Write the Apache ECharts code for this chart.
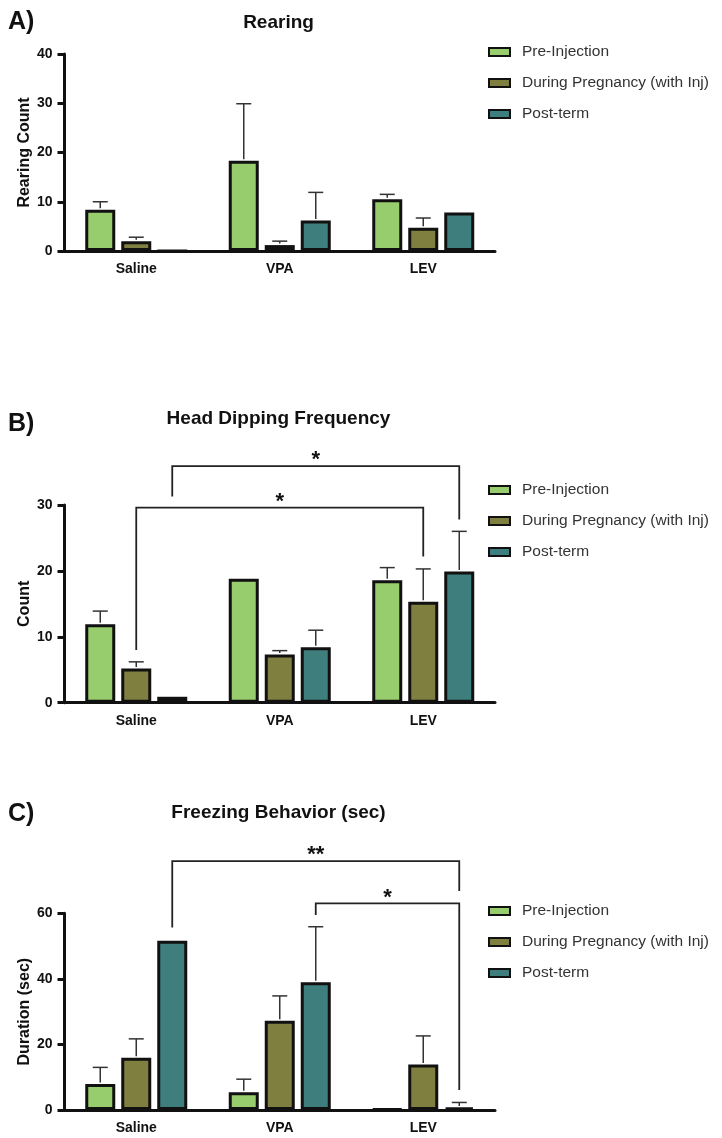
<!DOCTYPE html>
<html>
<head>
<meta charset="utf-8">
<script src="https://cdn.jsdelivr.net/npm/echarts@6/dist/echarts.min.js"></script>
<style>
html,body{margin:0;padding:0;background:#fff;}
#chart{width:722px;height:1138px;}
</style>
</head>
<body>
<div id="chart"></div>
<script>
// ---------------- DATA ----------------
const categories = ['Saline', 'VPA', 'LEV'];
const seriesNames = ['Pre-Injection', 'During Pregnancy (with Inj)', 'Post-term'];

// A) Rearing (mean, SD)
const rearingPre = [8.4, 18.3, 10.5];
const rearingPreSD = [1.6, 11.6, 1.0];
const rearingDuring = [2.0, 1.2, 4.7];
const rearingDuringSD = [0.8, 0.8, 2.0];
const rearingPost = [0, 6.2, 7.8];
const rearingPostSD = [null, 5.7, null];

// B) Head dipping frequency
const headPre = [11.9, 18.8, 18.6];
const headPreSD = [2.0, null, 1.9];
const headDuring = [5.2, 7.3, 15.3];
const headDuringSD = [1.0, 0.6, 5.0];
const headPost = [0.9, 8.4, 19.9];
const headPostSD = [null, 2.6, 6.1];

// C) Freezing behavior (sec)
const freezePre = [7.9, 5.4, 0.3];
const freezePreSD = [5.1, 4.0, null];
const freezeDuring = [15.9, 27.2, 13.9];
const freezeDuringSD = [5.8, 7.6, 8.7];
const freezePost = [51.6, 39.0, 0.8];
const freezePostSD = [null, 16.9, 1.5];

// significance brackets: [fromCategory, fromSeries, toCategory, toSeries, topValue, leftEnd, rightEnd]
const headBrackets = [[0, 1, 2, 1, 29.6, 8.0, 22.2], [0, 2, 2, 2, 35.9, 31.3, 27.8]];
const headBracketLabels = ['*', '*'];
const freezeBrackets = [[0, 2, 2, 2, 75.9, 55.7, 66.8], [1, 2, 2, 2, 63.0, 59.5, 6.1]];
const freezeBracketLabels = ['**', '*'];

// y axis settings
const yMax = [40, 30, 60];
const yInterval = [10, 10, 20];
const yNames = ['Rearing Count', 'Count', 'Duration (sec)'];
const panelTitles = ['Rearing', 'Head Dipping Frequency', 'Freezing Behavior (sec)'];
const panelLetters = ['A)', 'B)', 'C)'];

// ---------------- STYLE / LAYOUT ----------------
const FONT = "'Liberation Sans', Arial, sans-serif";
const colors = ['#98cd6e', '#7f7f3f', '#3e7f7e'];
const BAR_W = 30;
const BAR_GAP = 0.2; // fraction of bar width
const grids = [
  {left: 64.5, top: 54, width: 430.5, height: 197},
  {left: 64.5, top: 505, width: 430.5, height: 197.7},
  {left: 64.5, top: 913.3, width: 430.5, height: 196.7}
];
const titleY = [23, 419, 813];
const letterY = [22, 424, 814];
const legendTop = [43, 481, 902];

const panels = [
  {means: [rearingPre, rearingDuring, rearingPost], sds: [rearingPreSD, rearingDuringSD, rearingPostSD], brackets: [], labels: []},
  {means: [headPre, headDuring, headPost], sds: [headPreSD, headDuringSD, headPostSD], brackets: headBrackets, labels: headBracketLabels},
  {means: [freezePre, freezeDuring, freezePost], sds: [freezePreSD, freezeDuringSD, freezePostSD], brackets: freezeBrackets, labels: freezeBracketLabels}
];

function barOffset(s) {
  return (s - 1) * BAR_W * (1 + BAR_GAP);
}

const chart = echarts.init(document.getElementById('chart'), null, {renderer: 'canvas'});

const option = {
  backgroundColor: '#fff',
  animation: false,
  grid: grids.map(g => Object.assign({containLabel: false}, g)),
  xAxis: grids.map((g, i) => ({
    type: 'category',
    gridIndex: i,
    data: categories,
    axisLine: {lineStyle: {color: '#111', width: 3}},
    axisTick: {alignWithLabel: true, length: 7, lineStyle: {color: '#111', width: 3}},
    axisLabel: {margin: 11, color: '#111', fontSize: 14, fontWeight: 'bold', fontFamily: FONT},
    splitLine: {show: false}
  })),
  yAxis: grids.map((g, i) => ({
    type: 'value',
    gridIndex: i,
    min: 0,
    max: yMax[i],
    interval: yInterval[i],
    name: yNames[i],
    nameLocation: 'middle',
    nameRotate: 90,
    nameGap: 32,
    nameMoveOverlap: false,
    nameTextStyle: {color: '#111', fontSize: 16, fontWeight: 'bold', fontFamily: FONT},
    axisLine: {show: true, lineStyle: {color: '#111', width: 3}},
    axisTick: {show: true, length: 7, lineStyle: {color: '#111', width: 3}},
    axisLabel: {margin: 12, color: '#111', fontSize: 14, fontWeight: 'bold', fontFamily: FONT},
    splitLine: {show: false}
  })),
  legend: legendTop.map(t => ({
    orient: 'vertical',
    left: 488,
    top: t,
    padding: 0,
    itemWidth: 21,
    itemHeight: 8,
    itemGap: 13,
    icon: 'rect',
    data: seriesNames,
    selectedMode: false,
    itemStyle: {borderColor: '#111', borderWidth: 2},
    textStyle: {color: '#333', fontSize: 15.5, fontFamily: FONT, lineHeight: 18, padding: [0, 0, 0, 7]}
  })),
  graphic: [],
  series: []
};

panelTitles.forEach((t, i) => {
  option.graphic.push({
    type: 'text', x: 278.5, y: titleY[i],
    style: {text: t, fill: '#111', font: 'bold 19px ' + FONT, align: 'center', verticalAlign: 'middle'}
  });
  option.graphic.push({
    type: 'text', x: 8, y: letterY[i],
    style: {text: panelLetters[i], fill: '#111', font: 'bold 25px ' + FONT, align: 'left', verticalAlign: 'middle'}
  });
});

panels.forEach((p, i) => {
  p.means.forEach((m, s) => {
    option.series.push({
      type: 'bar',
      name: seriesNames[s],
      xAxisIndex: i,
      yAxisIndex: i,
      data: m,
      barWidth: BAR_W,
      barGap: (BAR_GAP * 100) + '%',
      itemStyle: {color: colors[s], borderColor: '#111', borderWidth: 3},
      z: 2
    });
  });
  // error bars
  const errData = [];
  p.means.forEach((m, s) => {
    m.forEach((v, c) => {
      const sd = p.sds[s][c];
      if (sd != null) errData.push([c, s, v, v + sd]);
    });
  });
  option.series.push({
    type: 'custom',
    name: 'err' + i,
    xAxisIndex: i,
    yAxisIndex: i,
    data: errData,
    encode: {x: 0, y: 3},
    z: 3,
    silent: true,
    renderItem: function (params, api) {
      const c = api.value(0), s = api.value(1);
      const pm = api.coord([c, api.value(2)]);
      const pt = api.coord([c, api.value(3)]);
      const x = pm[0] + barOffset(s);
      const st = {stroke: '#333', lineWidth: 1.5};
      return {
        type: 'group',
        children: [
          {type: 'line', shape: {x1: x, y1: pm[1] - 1.5, x2: x, y2: pt[1]}, style: st},
          {type: 'line', shape: {x1: x - 7.5, y1: pt[1], x2: x + 7.5, y2: pt[1]}, style: st}
        ]
      };
    }
  });
  if (p.brackets.length) {
    const labels = p.labels;
    option.series.push({
      type: 'custom',
      name: 'sig' + i,
      xAxisIndex: i,
      yAxisIndex: i,
      data: p.brackets.map((b, k) => b.concat([k])),
      encode: {x: 0, y: 4},
      clip: false,
      z: 4,
      silent: true,
      renderItem: function (params, api) {
        const c1 = api.value(0), s1 = api.value(1), c2 = api.value(2), s2 = api.value(3);
        const k = api.value(7);
        const x1 = api.coord([c1, 0])[0] + barOffset(s1);
        const x2 = api.coord([c2, 0])[0] + barOffset(s2);
        const yt = api.coord([c1, api.value(4)])[1];
        const yl = api.coord([c1, api.value(5)])[1];
        const yr = api.coord([c1, api.value(6)])[1];
        return {
          type: 'group',
          children: [
            {type: 'polyline', shape: {points: [[x1, yl], [x1, yt], [x2, yt], [x2, yr]]},
             style: {stroke: '#222', lineWidth: 1.8, fill: null}},
            {type: 'text', x: (x1 + x2) / 2, y: yt - 6,
             style: {text: labels[k], fill: '#111', font: 'bold 22px ' + FONT, align: 'center', verticalAlign: 'middle'}}
          ]
        };
      }
    });
  }
});

chart.setOption(option);
</script>
</body>
</html>
